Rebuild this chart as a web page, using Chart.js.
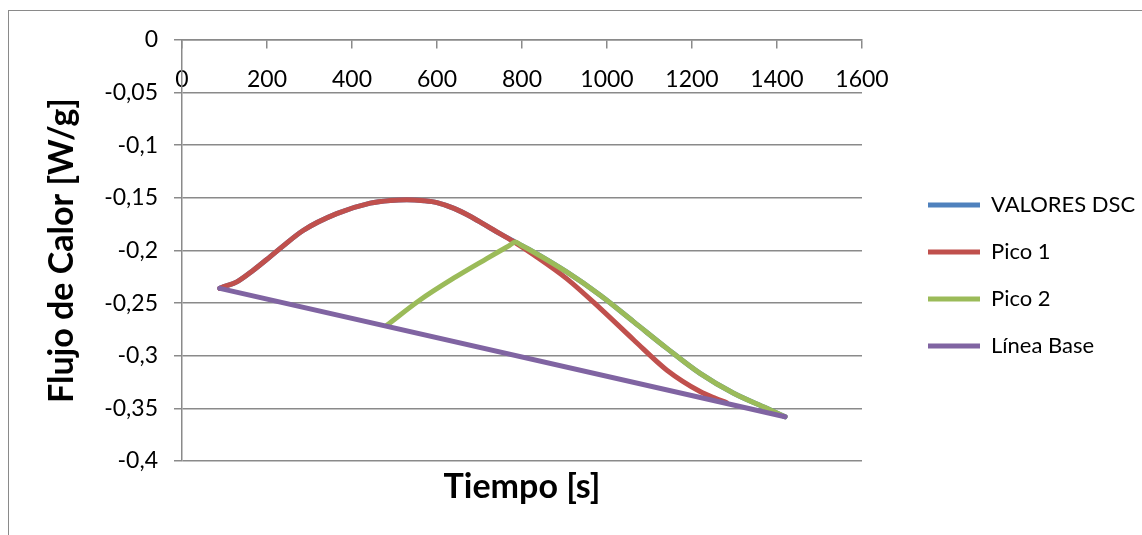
<!DOCTYPE html>
<html>
<head>
<meta charset="utf-8">
<script src="https://cdn.jsdelivr.net/npm/chart.js@4.4.0/dist/chart.umd.min.js"></script>
<style>
  html, body { margin: 0; padding: 0; background: #fff; }
  #wrap { position: relative; width: 1142px; height: 535px; overflow: hidden; }
  #marco { position: absolute; left: 8px; top: 10px; width: 1200px; height: 600px; border: 1.5px solid #8a8a8a; }
  #myChart { position: absolute; left: 0; top: 0; }
</style>
</head>
<body>
<div id="wrap">
  <div id="marco"></div>
  <canvas id="myChart" width="1142" height="535"></canvas>
</div>
<script>
// Tiempo [s] y flujo de calor [W/g] de cada serie
const tiempoDSC = [89, 97, 129, 167, 207, 231, 285, 364, 443, 490, 529, 570, 600, 640, 678, 710, 748, 784, 827, 905, 984, 1063, 1141, 1219, 1298, 1376, 1419];
const flujoDSC = [-0.236, -0.2346, -0.2298, -0.219, -0.206, -0.198, -0.181, -0.165, -0.155, -0.1524, -0.1517, -0.1527, -0.1545, -0.16, -0.1675, -0.175, -0.184, -0.192, -0.2014, -0.2204, -0.2425, -0.2678, -0.293, -0.3168, -0.3357, -0.35, -0.358];

const tiempoPico1 = [89, 97, 129, 167, 207, 231, 285, 364, 443, 490, 529, 570, 600, 640, 678, 710, 748, 784, 827, 905, 984, 1063, 1141, 1219, 1255, 1281];
const flujoPico1 = [-0.236, -0.2346, -0.2298, -0.219, -0.206, -0.198, -0.181, -0.165, -0.155, -0.1524, -0.1517, -0.1527, -0.1545, -0.16, -0.1675, -0.175, -0.184, -0.1925, -0.204, -0.2267, -0.255, -0.285, -0.3137, -0.334, -0.3405, -0.3445];

const tiempoPico2 = [482, 560, 638, 717, 770, 784, 797, 827, 905, 984, 1063, 1141, 1219, 1298, 1376, 1419];
const flujoPico2 = [-0.271, -0.247, -0.2266, -0.2077, -0.1953, -0.192, -0.1948, -0.2014, -0.2204, -0.2425, -0.2678, -0.293, -0.3168, -0.3357, -0.35, -0.358];

const tiempoBase = [89, 1419];
const flujoBase = [-0.236, -0.358];

// Etiquetas de los ejes
const xTickLabels = ['0', '200', '400', '600', '800', '1000', '1200', '1400', '1600'];
const yTickLabels = ['-0,4', '-0,35', '-0,3', '-0,25', '-0,2', '-0,15', '-0,1', '-0,05', '0'];

const gris = '#8a8a8a';

function puntos(xs, ys) {
    return xs.map((x, i) => ({ x: x, y: ys[i] }));
}

function serie(label, xs, ys, color, orden) {
    return {
        label: label,
        data: puntos(xs, ys),
        borderColor: color,
        backgroundColor: color,
        borderWidth: 5,
        borderCapStyle: 'round',
        borderJoinStyle: 'round',
        pointRadius: 0,
        cubicInterpolationMode: 'monotone',
        order: orden, // la línea base queda encima
    };
}

Chart.defaults.font.family = 'Lato';
Chart.defaults.color = '#000';

const ctx = document.getElementById('myChart').getContext('2d');

const config = {
    type: 'line',
    data: {
        datasets: [
            serie('VALORES DSC', tiempoDSC, flujoDSC, '#4f81bd', 3),
            serie('Pico 1', tiempoPico1, flujoPico1, '#c0504d', 2),
            serie('Pico 2', tiempoPico2, flujoPico2, '#9bbb59', 1),
            serie('Línea Base', tiempoBase, flujoBase, '#8064a2', 0),
        ],
    },
    options: {
        responsive: false,
        animation: false,
        layout: { padding: { left: 0, top: 40, right: 4, bottom: 24 } },
        plugins: {
            legend: {
                position: 'right',
                maxWidth: 235,
                labels: {
                    usePointStyle: true,
                    pointStyle: 'line',
                    pointStyleWidth: 52,
                    boxHeight: 22,
                    padding: 25,
                    font: { size: 22, lineHeight: 1 },
                    sort: (a, b) => a.datasetIndex - b.datasetIndex,
                },
            },
            tooltip: { enabled: false },
        },
        scales: {
            x: {
                type: 'linear',
                position: { y: 0 },
                min: 0,
                max: 1600,
                ticks: {
                    stepSize: 200,
                    padding: 18,
                    maxRotation: 0,
                    font: { size: 23 },
                    callback: (value, index) => xTickLabels[index],
                },
                grid: { drawOnChartArea: false, tickLength: 8, color: gris, lineWidth: 1.5 },
                border: { color: gris, width: 1.5 },
            },
            y: {
                type: 'linear',
                position: 'left',
                min: -0.4,
                max: 0,
                ticks: {
                    stepSize: 0.05,
                    padding: 16,
                    font: { size: 23 },
                    callback: (value, index) => yTickLabels[index],
                },
                grid: { color: gris, lineWidth: 1.5, tickLength: 8 },
                border: { color: gris, width: 1.5 },
                title: {
                    display: true,
                    text: 'Flujo de Calor [W/g]',
                    font: { size: 34, weight: 'bold' },
                    padding: { top: 42, bottom: 0 },
                },
                afterFit: (scale) => { scale.width = 182; },
            },
            // eje inferior solo para el título del tiempo
            xTitulo: {
                type: 'linear',
                axis: 'x',
                position: 'bottom',
                ticks: { display: false },
                grid: { display: false, drawTicks: false },
                border: { display: false },
                title: {
                    display: true,
                    text: 'Tiempo [s]',
                    font: { size: 34, weight: 'bold' },
                    padding: { top: 0, bottom: 4 },
                },
                afterFit: (scale) => { scale.height = 50; },
            },
            // hueco entre el área de trazado y la leyenda
            yHueco: {
                type: 'linear',
                axis: 'y',
                position: 'right',
                ticks: { display: false },
                grid: { display: false, drawTicks: false },
                border: { display: false },
                afterFit: (scale) => { scale.width = 41; },
            },
        },
    },
};

const myChart = new Chart(ctx, config);
</script>
</body>
</html>
